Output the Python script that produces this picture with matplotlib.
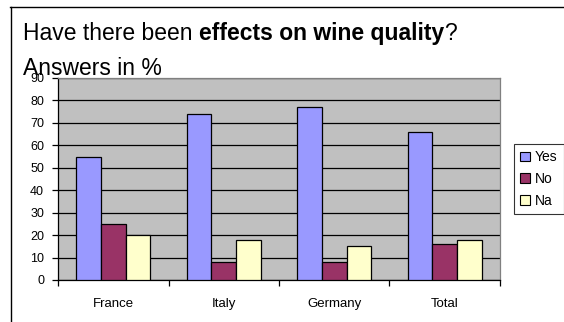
import matplotlib
matplotlib.use("Agg")
import matplotlib.pyplot as plt
from matplotlib.lines import Line2D
from matplotlib.patches import Patch
import numpy as np

categories = ["France", "Italy", "Germany", "Total"]
series_names = ["Yes", "No", "Na"]
yes_vals = [55, 74, 77, 66]
no_vals = [25, 8, 8, 16]
na_vals = [20, 18, 15, 18]
colors = ["#9999FF", "#993366", "#FFFFCC"]
yticks = list(range(0, 100, 10))

plt.rcParams['font.family'] = ['Liberation Sans', 'DejaVu Sans']

W, H = 564, 322
fig = plt.figure(figsize=(W / 100, H / 100), dpi=100)
fig.patch.set_facecolor("white")

def fx(px):
    return px / W

def fy(py):
    return 1 - py / H

ax = fig.add_axes([fx(58), fy(280), fx(500) - fx(58), fy(78) - fy(280)])
ax.set_facecolor("#C0C0C0")

x = np.arange(len(categories))
bw = 0.224
for i, (vals, c) in enumerate(zip([yes_vals, no_vals, na_vals], colors)):
    ax.bar(x + (i - 1) * bw, vals, width=bw, color=c, edgecolor="black",
           linewidth=0.9, zorder=3, label=series_names[i])

ax.set_xlim(-0.5, len(categories) - 0.5)
ax.set_ylim(0, 90)
ax.set_yticks(yticks)
ax.set_yticklabels([str(v) for v in yticks], fontsize=9)
ax.yaxis.grid(True, color="black", linewidth=0.9, zorder=1)
ax.set_axisbelow(True)

ax.set_xticks(x)
ax.set_xticklabels(categories, fontsize=9.5)
ax.tick_params(axis="x", which="major", length=0, pad=13)
ax.set_xticks(np.arange(-0.5, len(categories), 1.0), minor=True)
ax.tick_params(axis="x", which="minor", length=4, direction="out", width=0.9)
ax.tick_params(axis="y", length=4, direction="out", width=0.9, pad=6)

for s in ["top", "right"]:
    ax.spines[s].set_color("#808080")
    ax.spines[s].set_linewidth(0.9)
for s in ["left", "bottom"]:
    ax.spines[s].set_color("black")
    ax.spines[s].set_linewidth(0.9)

handles = [Patch(facecolor=c, edgecolor="black", linewidth=0.8, label=n)
           for c, n in zip(colors, series_names)]
leg = fig.legend(handles=handles, loc="upper left",
                 bbox_to_anchor=(fx(514), fy(144)), frameon=True,
                 fontsize=10, handlelength=0.7, handleheight=0.7,
                 handletextpad=0.35, labelspacing=0.55, borderpad=0.45,
                 borderaxespad=0, fancybox=False)
leg.get_frame().set_edgecolor("black")
leg.get_frame().set_linewidth(0.8)

# frame lines
fig.add_artist(Line2D([fx(10), 1], [fy(7), fy(7)], color="black", lw=1.0))
fig.add_artist(Line2D([fx(11), fx(11)], [fy(7), 0], color="black", lw=1.0))

# title with mixed weight
fig.canvas.draw()
r = fig.canvas.get_renderer()
fs = 16.5
parts = [("Have there been ", "normal"), ("effects on wine quality", "bold"), ("?", "normal")]
xpos = fx(23)
for txt, wt in parts:
    t = fig.text(xpos, fy(40), txt, fontsize=fs, fontweight=wt,
                 ha="left", va="baseline", color="black")
    bb = t.get_window_extent(renderer=r)
    xpos = xpos + bb.width / W
fig.text(fx(23), fy(75), "Answers in %", fontsize=fs, ha="left",
         va="baseline", color="black", zorder=10)

fig.savefig("out.png", dpi=100)
